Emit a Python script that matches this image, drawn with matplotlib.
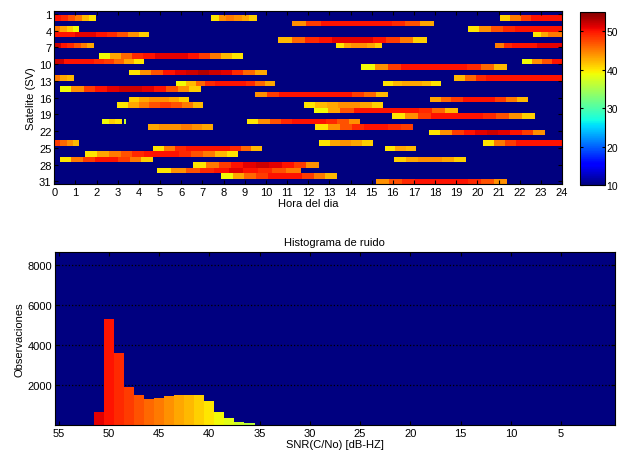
import matplotlib
matplotlib.use("Agg")
import matplotlib.pyplot as plt
import numpy as np

# satellite visibility bars: row (SV), start hour, end hour, SNR along the pass
bar_row = [2, 2, 2, 3, 4, 4, 5, 5, 6, 7, 7, 7, 9, 10, 10, 11, 12, 13, 13,
           14, 14, 15, 16, 17, 17, 18, 18, 19, 20, 21, 21, 21, 22, 22, 23,
           25, 25, 25, 26, 26, 27, 28, 28, 29, 30, 31, 32]
bar_start = [0, 7.4, 21.07, 11.26, 0, 19.56, 0, 22.65, 10.59, 0, 13.32, 20.85,
             2.13, 0, 22.13, 14.53, 3.53, 0, 18.9, 5.74, 15.56, 0.27, 9.49,
             3.53, 17.76, 2.98, 11.8, 12.31, 15.98, 2.27, 3.3, 9.13, 4.45,
             12.34, 17.7, 0, 12.53, 20.25, 4.68, 15.63, 1.48, 0.27, 16.06,
             6.57, 4.87, 7.91, 15.21]
bar_end = [2.0, 9.6, 24, 17.95, 1.2, 24, 4.5, 24, 17.6, 1.89, 15.5, 24,
           8.94, 4.24, 24, 21.39, 10.04, 0.93, 24, 10.45, 18.28, 6.94, 15.79,
           6.38, 22.41, 7.05, 15.56, 19.07, 22.73, 3.19, 3.42, 14.45, 7.52,
           16.94, 23.2, 1.17, 15.05, 24, 9.85, 17.13, 8.7, 4.68, 19.45,
           12.53, 11.66, 13.37, 21.39]
bar_snr = [
    [50, 49, 47, 45, 42, 40],
    [40, 44, 45, 44, 43, 41],
    [41, 45, 48, 50, 50, 50],
    [44, 48, 50, 50, 50, 50, 50, 49, 47, 43],
    [45, 43, 41, 39],
    [40, 44, 47, 49, 50, 50, 50, 50],
    [50, 50, 51, 51, 50, 49, 47, 44, 41],
    [40, 43, 45, 45],
    [42, 46, 49, 50, 51, 51, 51, 50, 48, 45, 41],
    [52, 50, 49, 47, 45, 43],
    [40, 43, 44, 44, 43, 41],
    [45, 49, 50, 50, 50, 51, 51, 51],
    [39, 43, 46, 49, 50, 51, 51, 51, 50, 48, 45, 42, 40],
    [52, 50, 50, 50, 49, 48, 46, 43, 40],
    [39, 44, 47, 50],
    [39, 44, 48, 50, 50, 50, 50, 50, 49, 46, 42],
    [40, 44, 47, 50, 51, 52, 53, 52, 51, 49, 46, 43],
    [45, 43, 42],
    [42, 46, 49, 50, 50, 50, 50, 50, 50, 50],
    [39, 42, 46, 49, 50, 50, 50, 49, 46, 43],
    [40, 42, 43, 43, 42, 40],
    [39, 44, 48, 50, 51, 52, 52, 51, 50, 47, 44, 41],
    [44, 48, 50, 50, 50, 50, 50, 50, 48, 46, 42],
    [41, 43, 44, 44, 43, 41],
    [43, 46, 48, 50, 50, 50, 48, 45, 42],
    [40, 43, 45, 47, 48, 47, 45, 42],
    [40, 42, 43, 44, 44, 43, 41],
    [39, 43, 47, 50, 50, 50, 50, 50, 49, 46, 42],
    [40, 44, 48, 50, 50, 50, 50, 49, 47, 44, 41],
    [39, 41, 40],
    [37],
    [40, 44, 47, 49, 50, 50, 50, 49, 47, 44],
    [43, 44, 44, 45, 44, 43],
    [40, 44, 47, 49, 50, 50, 49, 48],
    [40, 44, 48, 50, 51, 52, 51, 50, 48, 44],
    [48, 46, 44, 42],
    [40, 43, 44, 43, 41],
    [40, 45, 48, 50, 50, 50, 50],
    [40, 45, 49, 50, 50, 50, 50, 49, 46, 42],
    [40, 43, 42],
    [40, 43, 45, 47, 49, 50, 50, 50, 49, 47, 45, 42, 40],
    [40, 45, 48, 50, 50, 48, 45, 41],
    [41, 43, 44, 44, 43, 41],
    [40, 45, 48, 50, 51, 52, 51, 50, 48, 44],
    [40, 44, 47, 49, 50, 51, 50, 49, 47, 45],
    [39, 43, 46, 48, 50, 50, 50, 48, 45, 42],
    [44, 47, 49, 50, 50, 50, 50, 49, 47, 44],
]

hours = list(range(0, 25))
sv_ticks = [1, 4, 7, 10, 13, 16, 19, 22, 25, 28, 31]
cbar_ticks = [10, 20, 30, 40, 50]

# histogram of noise
snr_bins = [51, 50, 49, 48, 47, 46, 45, 44, 43, 42, 41, 40, 39, 38, 37, 36]
snr_counts = [620, 5300, 3600, 1910, 1490, 1290, 1360, 1420, 1490, 1490,
              1490, 1170, 640, 340, 150, 85]
snr_ticks = [55, 50, 45, 40, 35, 30, 25, 20, 15, 10, 5]
obs_ticks = [2000, 4000, 6000, 8000]

vmin, vmax = 10, 55
cols_per_hour = 40
n_rows = 32

# build the image grid
grid = np.full((n_rows, 24 * cols_per_hour), float(vmin))
for r, s, e, vals in zip(bar_row, bar_start, bar_end, bar_snr):
    c0 = int(round(s * cols_per_hour))
    c1 = int(round(e * cols_per_hour))
    c1 = max(c1, c0 + 1)
    edges = np.linspace(c0, c1, len(vals) + 1).round().astype(int)
    for v, a, b in zip(vals, edges[:-1], edges[1:]):
        grid[r - 1, a:max(b, a + 1)] = v

plt.rcParams['font.family'] = ['Liberation Sans', 'DejaVu Sans']
plt.rcParams['font.size'] = 8
plt.rcParams['xtick.direction'] = 'in'
plt.rcParams['ytick.direction'] = 'in'

fig = plt.figure(figsize=(6.2, 4.56), dpi=100)
cmap = plt.get_cmap('jet')
norm = matplotlib.colors.Normalize(vmin, vmax)

# top panel
ax1 = fig.add_axes([0.0876, 0.594, 0.819, 0.3794])
half = 0.5 * 30 / 31
im = ax1.imshow(grid, cmap=cmap, norm=norm, aspect='auto',
                interpolation='nearest',
                extent=[0, 24, 31 + half, 1 - half])
ax1.set_xlim(0, 24)
ax1.set_ylim(31 + half, 1 - half)
ax1.set_xticks(hours)
ax1.set_yticks(sv_ticks)
ax1.tick_params(top=True, right=True, length=3, width=0.8, pad=2)
ax1.set_xlabel('Hora del dia', labelpad=1)
ax1.set_ylabel('Satelite (SV)', labelpad=2)

cax = fig.add_axes([0.936, 0.592, 0.040, 0.380])
cb = fig.colorbar(im, cax=cax, ticks=cbar_ticks)
cb.ax.tick_params(direction='in', length=2.5, width=0.8, pad=1, left=True,
                  labelsize=7.5)
cb.outline.set_linewidth(0.8)

# bottom panel
ax2 = fig.add_axes([0.0887, 0.066, 0.903, 0.379])
ax2.set_facecolor(cmap(0.0))
ax2.bar(snr_bins, snr_counts, width=1.0, color=cmap(norm(np.array(snr_bins))),
        linewidth=0, zorder=2)
ax2.set_xlim(55.35, -0.35)
ax2.set_ylim(0, 8620)
ax2.set_xticks(snr_ticks)
ax2.set_yticks(obs_ticks)
ax2.yaxis.grid(True, linestyle=':', color='black', linewidth=0.9)
ax2.set_axisbelow(True)
ax2.tick_params(top=True, right=True, length=3, width=0.8, pad=2)
ax2.set_xlabel('SNR(C/No) [dB-HZ]', labelpad=1)
ax2.set_ylabel('Observaciones', labelpad=2)
ax2.set_title('Histograma de ruido', fontsize=8, pad=5)

for ax in (ax1, ax2):
    for sp in ax.spines.values():
        sp.set_linewidth(0.8)

fig.savefig('out.png', dpi=100)
